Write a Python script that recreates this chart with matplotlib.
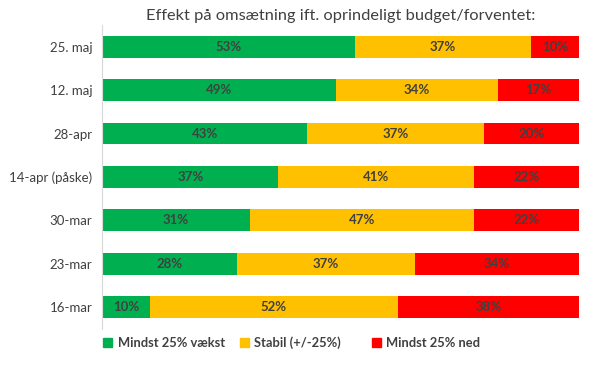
import matplotlib.pyplot as plt
from matplotlib.patches import Patch

plt.rcParams['font.family'] = ['Lato', 'DejaVu Sans']

datoer = ['16-mar', '23-mar', '30-mar', '14-apr (påske)', '28-apr', '12. maj', '25. maj']
vaekst = [10, 28.3, 31, 37, 43, 49, 53]
stabil = [52, 37.3, 47, 41, 37, 34, 37]
ned = [38, 34.4, 22, 22, 20, 17, 10]

serier = ['Mindst 25% vækst', 'Stabil (+/-25%)', 'Mindst 25% ned']
farver = ['#00B050', '#FFC000', '#FF0000']
tekstfarve = '#404040'

fig = plt.figure(figsize=(6, 3.81), dpi=100)
ax = fig.add_axes([0.17, 0.1373, 0.795, 0.7963])

y = list(range(len(datoer)))
venstre = [0] * len(datoer)
for vaerdier, farve in zip([vaekst, stabil, ned], farver):
    bars = ax.barh(y, vaerdier, left=venstre, height=0.5, color=farve)
    for b, v in zip(bars, vaerdier):
        ax.text(b.get_x() + b.get_width() / 2, b.get_y() + b.get_height() / 2,
                f'{round(v)}%', ha='center', va='center', fontsize=9.5,
                fontweight='bold', color=tekstfarve)
    venstre = [a + b for a, b in zip(venstre, vaerdier)]

ax.set_xlim(0, 100)
ax.set_ylim(-0.5, 6.5)
ax.set_yticks(y)
ax.set_yticklabels(datoer, fontsize=9.5, color=tekstfarve)
ax.set_xticks([])
ax.tick_params(axis='y', length=0, pad=7)
for s in ['top', 'right', 'bottom']:
    ax.spines[s].set_visible(False)
ax.spines['left'].set_color('#D9D9D9')
ax.set_title('Effekt på omsætning ift. oprindeligt budget/forventet:',
             fontsize=11.8, color=tekstfarve, pad=4)

# legend: tre separate for at ramme Excel-placeringen
for navn, farve, xpos in zip(serier, farver, [0.153, 0.38, 0.6]):
    fig.legend(handles=[Patch(color=farve)], labels=[navn], loc='center left',
               bbox_to_anchor=(xpos, 0.0997), frameon=False,
               handlelength=0.7, handleheight=0.7, handletextpad=0.4,
               labelcolor=tekstfarve, prop={'weight': 'bold', 'size': 9.3})

fig.savefig('out.png', dpi=100)
